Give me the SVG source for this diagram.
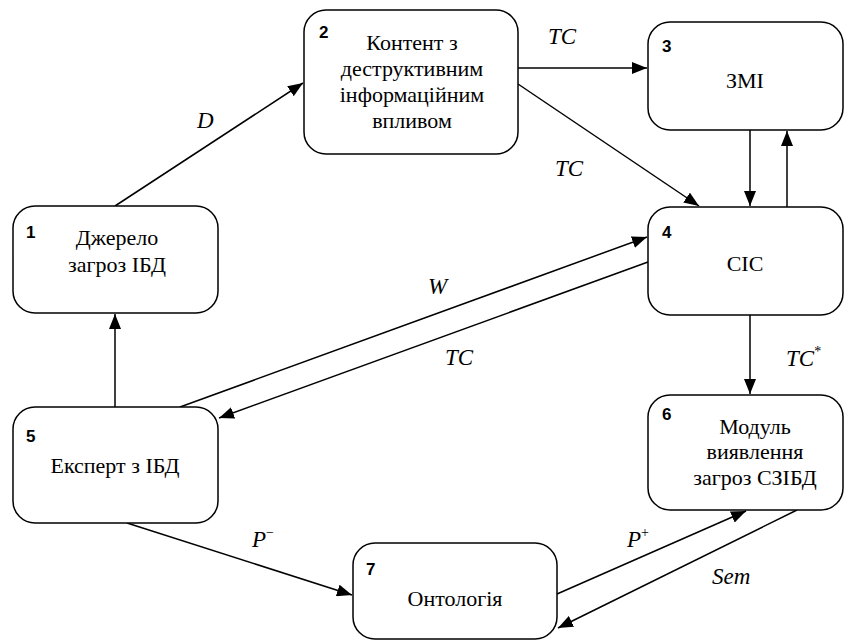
<svg xmlns="http://www.w3.org/2000/svg" width="846" height="644" viewBox="0 0 846 644">
<style>
.box{fill:#fff;stroke:#000;stroke-width:1.5}
.t{font-family:"Liberation Serif","Times New Roman",Tinos,"Nimbus Roman","FreeSerif","Noto Serif","DejaVu Serif",Times,serif;font-size:22px;text-anchor:middle;fill:#000}
.n{font-family:"Liberation Sans",Arial,sans-serif;font-size:17px;font-weight:bold;fill:#000}
.l{font-family:"Liberation Serif","Times New Roman",Tinos,"Nimbus Roman","FreeSerif","Noto Serif","DejaVu Serif",Times,serif;font-size:23px;font-style:italic;fill:#000}
.sup{font-size:14px;font-style:normal}
.c{stroke:#000;stroke-width:1.5;fill:none;marker-end:url(#ah)}
</style>
<defs>
<marker id="ah" markerUnits="userSpaceOnUse" markerWidth="16" markerHeight="12" refX="15" refY="6" orient="auto">
<path d="M0,0 L15,6 L0,12 z" fill="#000"/>
</marker>
</defs>
<rect width="846" height="644" fill="#fff"/>
<g id="connectors">
<line class="c" x1="115" y1="206" x2="303" y2="83"/>
<line class="c" x1="518" y1="68" x2="647" y2="68"/>
<line class="c" x1="518" y1="84" x2="699" y2="206"/>
<line class="c" x1="750" y1="130" x2="750" y2="206"/>
<line class="c" x1="787" y1="207" x2="787" y2="131"/>
<line class="c" x1="180" y1="407" x2="647" y2="237"/>
<line class="c" x1="648" y1="262" x2="219" y2="418"/>
<line class="c" x1="115" y1="407" x2="115" y2="314"/>
<line class="c" x1="750" y1="315" x2="750" y2="394"/>
<line class="c" x1="127" y1="523" x2="352" y2="595"/>
<line class="c" x1="557" y1="594" x2="746" y2="511"/>
<line class="c" x1="797" y1="510" x2="558" y2="628"/>
<text class="l" x="197" y="128">D</text>
<text class="l" x="548" y="44">TC</text>
<text class="l" x="555" y="176">TC</text>
<text class="l" x="428" y="294">W</text>
<text class="l" x="445" y="365">TC</text>
<text class="l" x="786" y="366">TC<tspan class="sup" dy="-10">*</tspan></text>
<text class="l" x="252" y="547">P<tspan class="sup" dy="-10">−</tspan></text>
<text class="l" x="627" y="547">P<tspan class="sup" dy="-10">+</tspan></text>
<text class="l" x="712" y="584">Sem</text>
</g>
<g id="node1">
<rect class="box" x="13" y="206" width="205" height="107" rx="22"/>
<text class="n" x="26" y="238">1</text>
<text class="t" x="117" y="245">Джерело</text>
<text class="t" x="117" y="272">загроз ІБД</text>
</g>
<g id="node2">
<rect class="box" x="304" y="10" width="214" height="144" rx="22"/>
<text class="n" x="319" y="38">2</text>
<text class="t" x="412" y="50">Контент з</text>
<text class="t" x="412" y="76">деструктивним</text>
<text class="t" x="412" y="102">інформаційним</text>
<text class="t" x="412" y="128">впливом</text>
</g>
<g id="node3">
<rect class="box" x="648" y="22" width="195" height="108" rx="22"/>
<text class="n" x="662" y="52">3</text>
<text class="t" x="745" y="88">ЗМІ</text>
</g>
<g id="node4">
<rect class="box" x="648" y="207" width="195" height="108" rx="22"/>
<text class="n" x="662" y="238">4</text>
<text class="t" x="745" y="271">СІС</text>
</g>
<g id="node5">
<rect class="box" x="13" y="407" width="205" height="116" rx="22"/>
<text class="n" x="26" y="442">5</text>
<text class="t" x="115" y="473">Експерт з ІБД</text>
</g>
<g id="node6">
<rect class="box" x="648" y="395" width="195" height="115" rx="22"/>
<text class="n" x="662" y="420">6</text>
<text class="t" x="755" y="434">Модуль</text>
<text class="t" x="755" y="459">виявлення</text>
<text class="t" x="755" y="485">загроз СЗІБД</text>
</g>
<g id="node7">
<rect class="box" x="353" y="543" width="204" height="96" rx="22"/>
<text class="n" x="366" y="575">7</text>
<text class="t" x="455" y="606">Онтологія</text>
</g>
</svg>
